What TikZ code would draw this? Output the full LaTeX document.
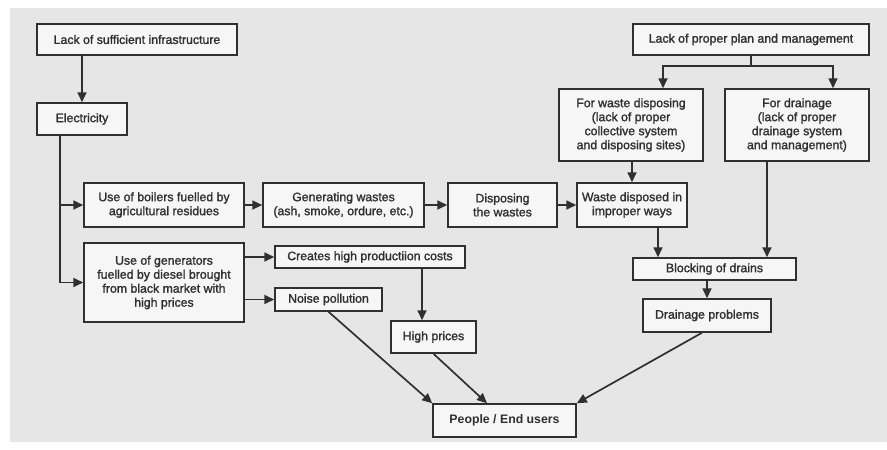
\documentclass[tikz,border=0pt]{standalone}
\usepackage{fontspec}
\setmainfont{Liberation Sans}[FakeBold=1.5]
\newfontfamily\boldface{Liberation Sans Bold}
\usetikzlibrary{arrows.meta,calc}
\definecolor{ink}{HTML}{303030}
\definecolor{bg}{HTML}{E6E6E6}
\definecolor{boxfill}{HTML}{F6F6F6}
\begin{document}
\begin{tikzpicture}[x=1pt,y=-1pt,
  box/.style={draw=ink,line width=1.5pt,fill=boxfill,text=ink,align=center,
    inner sep=1pt,font=\fontsize{12.3}{14}\selectfont},
  arr/.style={draw=ink,line width=1.7pt,-{Triangle[length=10pt,width=9pt]}},
  ln/.style={draw=ink,line width=1.7pt}]
\useasboundingbox (0,0) rectangle (887,450);
\fill[white] (0,0) rectangle (887,450);
\fill[bg] (10,8) rectangle (887,442);
% nodes
\node[box,minimum width=200pt,minimum height=31pt] (infra) at (137,39.5) {Lack of sufficient infrastructure};
\node[box,minimum width=90pt,minimum height=32pt] (elec) at (82,119) {Electricity};
\node[box,minimum width=160pt,minimum height=44pt] (boiler) at (164,205) {Use of boilers fuelled by\\agricultural residues};
\node[box,minimum width=161pt,minimum height=44pt] (genw) at (343.5,205) {Generating wastes\\(ash, smoke, ordure, etc.)};
\node[box,minimum width=109pt,minimum height=44pt] (disp) at (502.5,205) {Disposing\\the wastes};
\node[box,minimum width=110pt,minimum height=44pt] (wimp) at (632,205) {Waste disposed in\\improper ways};
\node[box,minimum width=160pt,minimum height=79pt] (gen) at (164,282.5) {Use of generators\\fuelled by diesel brought\\from black market with\\high prices};
\node[box,minimum width=190pt,minimum height=22pt] (costs) at (370,257) {Creates high productiion costs};
\node[box,minimum width=107pt,minimum height=23pt] (noise) at (328.5,299.5) {Noise pollution};
\node[box,minimum width=85pt,minimum height=32pt] (high) at (433.5,337) {High prices};
\node[box,minimum width=143pt,minimum height=33pt,font=\fontsize{12.3}{14}\boldface] (people) at (504.5,420.5) {People / End users};
\node[box,minimum width=236pt,minimum height=31pt] (plan) at (751,39.5) {Lack of proper plan and management};
\node[box,minimum width=144pt,minimum height=72pt] (wd) at (631,125) {For waste disposing\\(lack of proper\\collective system\\and disposing sites)};
\node[box,minimum width=144pt,minimum height=72pt] (dr) at (797,125) {For drainage\\(lack of proper\\drainage system\\and management)};
\node[box,minimum width=163pt,minimum height=22pt] (block) at (714.5,269) {Blocking of drains};
\node[box,minimum width=128pt,minimum height=33pt] (dprob) at (707,315.5) {Drainage problems};
% helper coordinates
\coordinate (trunk) at ($(elec.south west)+(24,0)$);
\coordinate (hpin) at ($(high.north)+(-11.5,0)$);
\coordinate (split) at ($(plan.south)+(0,10)$);
\coordinate (wdin) at ($(wd.north)+(32,0)$);
\coordinate (drin) at ($(dr.north)+(36,0)$);
\coordinate (drout) at ($(dr.south)+(-30,0)$);
\coordinate (wimpout) at ($(wimp.south)+(26,0)$);
\coordinate (pin2) at ($(people.north)+(-17.5,0)$);
\coordinate (dpout) at ($(dprob.south)+(-5,0)$);
% connectors
\draw[arr] (elec.north |- infra.south) -- (elec.north);
\draw[arr] (trunk) |- (boiler.west);
\draw[arr] (trunk) |- (gen.west);
\draw[arr] (boiler) -- (genw);
\draw[arr] (genw) -- (disp);
\draw[arr] (disp) -- (wimp);
\draw[arr] (gen.east |- costs) -- (costs.west);
\draw[arr] (gen.east |- noise) -- (noise.west);
\draw[arr] (costs.south -| hpin) -- (hpin);
\draw[arr] (noise.south) -- (people.north west);
\draw[arr] (high.south) -- (pin2);
\draw[arr] (dpout) -- (people.north east);
\draw[ln] (plan.south) -- (split);
\draw[arr] (split) -| (wdin);
\draw[arr] (split) -| (drin);
\draw[arr] (wimp.north |- wd.south) -- (wimp.north);
\draw[arr] (drout) -- (drout |- block.north);
\draw[arr] (wimpout) -- (wimpout |- block.north);
\draw[arr] (dprob.north |- block.south) -- (dprob.north);
\end{tikzpicture}
\end{document}
